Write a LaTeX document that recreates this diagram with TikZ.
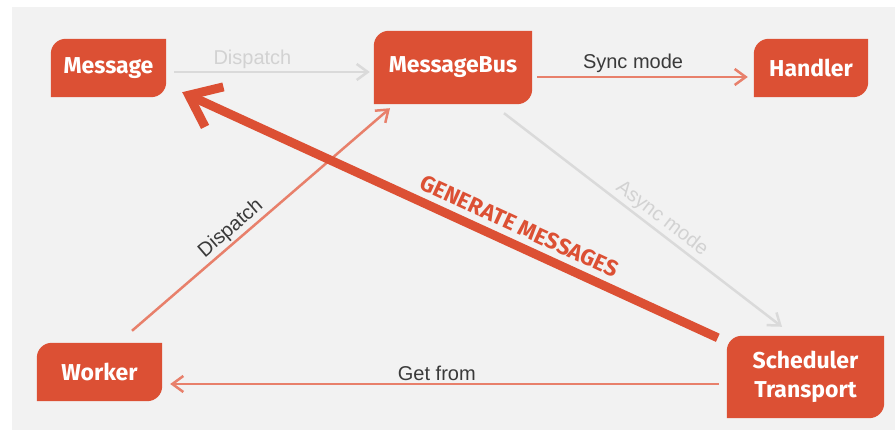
\documentclass[tikz,border=0pt]{standalone}
\usepackage{fontspec}
\setmainfont{Liberation Sans}
\newfontfamily\boxfont{Fira Sans}
\usetikzlibrary{arrows.meta,backgrounds}
\definecolor{boxc}{HTML}{DC5034}
\definecolor{salmon}{HTML}{E8806B}
\definecolor{lightline}{HTML}{DADADA}
\definecolor{lighttext}{HTML}{D2D2D2}
\definecolor{darktext}{HTML}{3A3A3A}
\definecolor{panel}{HTML}{F2F2F2}
\newcommand\leafshape[1]{%
  \fill[boxc] (#1.south west) -- ([yshift=-15pt]#1.north west)
    arc[start angle=180,end angle=90,radius=15pt] -- (#1.north east)
    -- ([yshift=15pt]#1.south east)
    arc[start angle=0,end angle=-90,radius=15pt] -- cycle;}
\tikzset{
  leaf/.style={inner sep=0pt, text=white, align=center,
    font=\boxfont\bfseries\fontsize{23}{29}\selectfont},
  lbl/.style={font=\fontsize{20}{24}\selectfont, inner sep=2pt},
  thinsalmon/.style={draw=salmon, line width=2.5pt,
    -{Straight Barb[length=11pt,width=16pt]}},
  thingray/.style={draw=lightline, line width=2.5pt,
    -{Straight Barb[length=11pt,width=16pt]}},
  bigarrow/.style={draw=boxc, line width=9pt,
    {Straight Barb[length=28pt,width=44pt]}-},
}
\begin{document}
\begin{tikzpicture}[x=1pt,y=1pt]
\useasboundingbox (0,0) rectangle (895,430);
\node[leaf, minimum width=115pt, minimum height=58pt] (msg) at (108.5,362) {Message};
\node[leaf, minimum width=158pt, minimum height=73pt] (bus) at (453,362.5) {MessageBus};
\node[leaf, minimum width=114pt, minimum height=58pt] (hdl) at (811,362) {Handler};
\node[leaf, minimum width=125pt, minimum height=58pt] (wrk) at (99.5,58) {Worker};
\node[leaf, minimum width=157pt, minimum height=82pt] (sch) at (805.5,53) {Scheduler\\Transport};
\begin{scope}[on background layer]
  \fill[panel] (12,0) rectangle (895,423);
  \leafshape{msg}
  \leafshape{bus}
  \leafshape{hdl}
  \leafshape{wrk}
  \leafshape{sch}
\end{scope}
% Dispatch (gray)
\draw[thingray] ([xshift=8pt,yshift=-4pt]msg.east) -- ([xshift=-4pt,yshift=-4.5pt]bus.west)
  node[lbl, pos=0.40, above, text=lighttext] {Dispatch};
% Sync mode
\draw[thinsalmon] ([xshift=5pt,yshift=-9.5pt]bus.east) -- ([xshift=-6pt,yshift=-9pt]hdl.west)
  node[lbl, pos=0.455, above, inner sep=3pt, text=darktext] {Sync mode};
% Async mode
\draw[thingray] ([xshift=51pt,yshift=-9pt]bus.south) -- ([xshift=-23.5pt,yshift=9pt]sch.north)
  node[lbl, pos=0.54, sloped, above, text=lighttext] {Async mode};
% Dispatch (worker)
\draw[thinsalmon] ([xshift=32.5pt,yshift=12pt]wrk.north) -- ([xshift=-63pt,yshift=-4pt]bus.south)
  node[lbl, pos=0.415, sloped, above, text=darktext] {Dispatch};
% Get from
\draw[thinsalmon] ([xshift=-8pt,yshift=-7pt]sch.west) -- ([xshift=8pt,yshift=-12pt]wrk.east)
  node[lbl, pos=0.514, above, text=darktext] {Get from};
% Generate messages
\draw[bigarrow] ([xshift=16pt,yshift=5pt]msg.south east) -- ([xshift=-9pt,yshift=-2pt]sch.north west)
  node[pos=0.615, sloped, above, inner sep=6pt, text=boxc,
    font=\boxfont\bfseries\fontsize{22.5}{26}\selectfont] {GENERATE MESSAGES};
\end{tikzpicture}
\end{document}
